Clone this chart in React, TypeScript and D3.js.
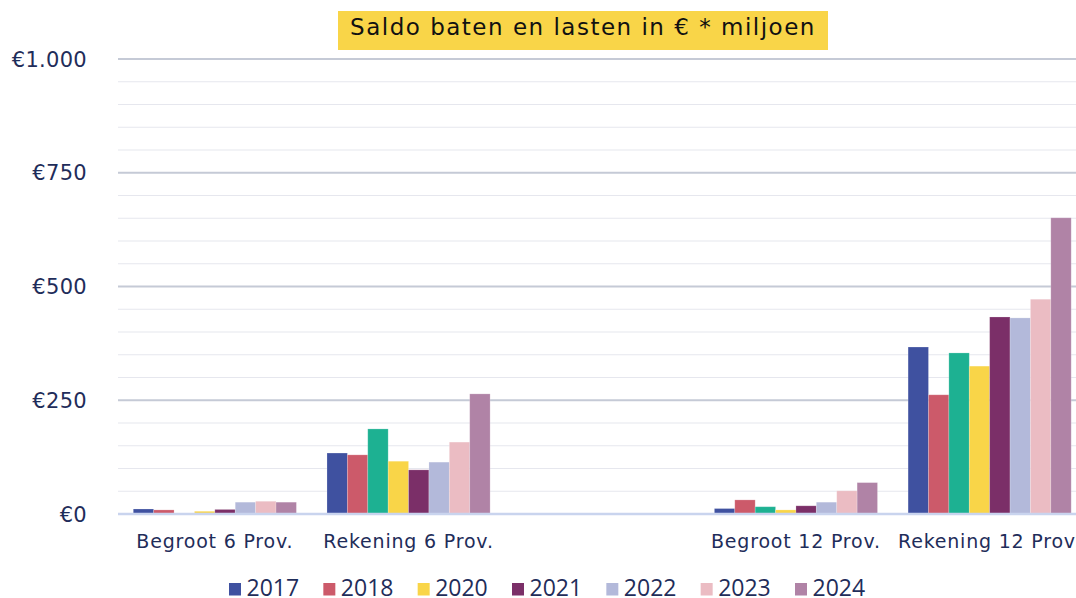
import { useEffect, useRef } from 'react';
import * as d3 from 'd3';

// categories (the third slot is empty in the source chart)
const categories = ['Begroot 6 Prov.', 'Rekening 6 Prov.', '', 'Begroot 12 Prov.', 'Rekening 12 Prov.'];
const years = ['2017', '2018', '2019', '2020', '2021', '2022', '2023', '2024'];
const legendYears = ['2017', '2018', '2020', '2021', '2022', '2023', '2024'];

const v2017 = [11, 134, null, 12, 367];
const v2018 = [9, 130, null, 31, 262];
const v2019 = [2, 187, null, 16, 354];
const v2020 = [6, 116, null, 9, 325];
const v2021 = [10, 97, null, 18, 433];
const v2022 = [26, 114, null, 26, 431];
const v2023 = [28, 158, null, 51, 472];
const v2024 = [26, 264, null, 69, 651];
const seriesValues = [v2017, v2018, v2019, v2020, v2021, v2022, v2023, v2024];

const yTicks = [0, 250, 500, 750, 1000];

const colors: Record<string, string> = {
  '2017': '#3f51a0',
  '2018': '#cc5a6a',
  '2019': '#1db192',
  '2020': '#f9d548',
  '2021': '#7b2f68',
  '2022': '#b3b9da',
  '2023': '#ebbcc3',
  '2024': '#b083a6',
};

const W = 1076;
const H = 598;
const FONT = '"DejaVu Sans", sans-serif';
const LEGEND_FONT = '"Open Sans", sans-serif';
const INK = '#1f2d5a';

const SaldoChart = () => {
  const svgRef = useRef<SVGSVGElement>(null);

  useEffect(() => {
    if (!svgRef.current) return;
    const svg = d3.select(svgRef.current);
    svg.selectAll('*').remove();

    const x0 = d3.scaleBand<number>()
      .domain(categories.map((_, i) => i))
      .range([118, 1086.5]);

    // 8 bars per group, centred in the band
    const x1 = d3.scaleBand<string>()
      .domain(years)
      .range([0, x0.bandwidth()])
      .paddingInner(0)
      .paddingOuter(0.75);

    const y = d3.scaleLinear().domain([0, 1000]).range([514, 59]);

    // minor grid
    const minor = d3.range(0, 1001, 50).filter(d => d % 250 !== 0);
    svg.append('g').selectAll('line')
      .data(minor)
      .enter()
      .append('line')
      .attr('x1', 118).attr('x2', W)
      .attr('y1', d => y(d)).attr('y2', d => y(d))
      .attr('stroke', '#e6e7ee')
      .attr('stroke-width', 1.2);

    // major grid
    svg.append('g').selectAll('line')
      .data(yTicks.filter(d => d > 0))
      .enter()
      .append('line')
      .attr('x1', 118).attr('x2', W)
      .attr('y1', d => y(d)).attr('y2', d => y(d))
      .attr('stroke', '#c5cad6')
      .attr('stroke-width', 2);

    // y labels
    const fmt = (d: number) => '€' + d3.format(',')(d).replace(/,/g, '.');
    svg.append('g').selectAll('text')
      .data(yTicks)
      .enter()
      .append('text')
      .attr('x', 87)
      .attr('y', d => y(d))
      .attr('dy', '0.36em')
      .attr('text-anchor', 'end')
      .attr('font-family', FONT)
      .attr('font-size', 21)
      .attr('letter-spacing', 0.3)
      .attr('fill', INK)
      .text(d => fmt(d));

    // bars
    const groups = svg.append('g').selectAll('g')
      .data(years)
      .enter()
      .append('g')
      .attr('fill', d => colors[d]);

    groups.selectAll('rect')
      .data((yr, si) => seriesValues[si].map((v, ci) => ({ yr, v, ci })).filter(d => d.v != null))
      .enter()
      .append('rect')
      .attr('x', d => (x0(d.ci) ?? 0) + (x1(d.yr) ?? 0))
      .attr('width', x1.bandwidth())
      .attr('y', d => y(d.v as number))
      .attr('height', d => y(0) - y(d.v as number))
      .attr('stroke', 'rgba(255,255,255,0.25)')
      .attr('stroke-width', 0.8);

    // baseline
    svg.append('line')
      .attr('x1', 118).attr('x2', W)
      .attr('y1', y(0)).attr('y2', y(0))
      .attr('stroke', '#c9d4ee')
      .attr('stroke-width', 2.5);

    // category labels
    svg.append('g').selectAll('text')
      .data(categories)
      .enter()
      .append('text')
      .attr('x', (_, i) => (x0(i) ?? 0) + x0.bandwidth() / 2)
      .attr('y', 548)
      .attr('text-anchor', 'middle')
      .attr('font-family', FONT)
      .attr('font-size', 19)
      .attr('letter-spacing', 0.8)
      .attr('fill', INK)
      .text(d => d);

    // title
    const title = svg.append('g');
    title.append('rect')
      .attr('x', 338).attr('y', 11)
      .attr('width', 490).attr('height', 39)
      .attr('fill', '#f9d548');
    title.append('text')
      .attr('x', 583).attr('y', 35)
      .attr('text-anchor', 'middle')
      .attr('font-family', FONT)
      .attr('font-size', 23)
      .attr('letter-spacing', 1.5)
      .attr('fill', '#111')
      .text('Saldo baten en lasten in € * miljoen');

    // legend
    const lx = d3.scalePoint<string>().domain(legendYears).range([229, 795]);
    const leg = svg.append('g').selectAll('g')
      .data(legendYears)
      .enter()
      .append('g')
      .attr('transform', d => `translate(${lx(d)},589)`);
    leg.append('rect')
      .attr('x', 0).attr('y', -6)
      .attr('width', 12).attr('height', 12.5)
      .attr('fill', d => colors[d]);
    leg.append('text')
      .attr('x', 17.5)
      .attr('y', 7)
      .attr('font-family', LEGEND_FONT)
      .attr('font-size', 23)
      .attr('fill', INK)
      .text(d => d);
  }, []);

  return (
    <div style={{ position: 'absolute', left: 0, top: 0, width: W, height: H, overflow: 'hidden', background: '#fff' }}>
      <svg ref={svgRef} width={W} height={H} style={{ display: 'block' }}></svg>
    </div>
  );
};

export default function App() {
  return <SaldoChart />;
}
